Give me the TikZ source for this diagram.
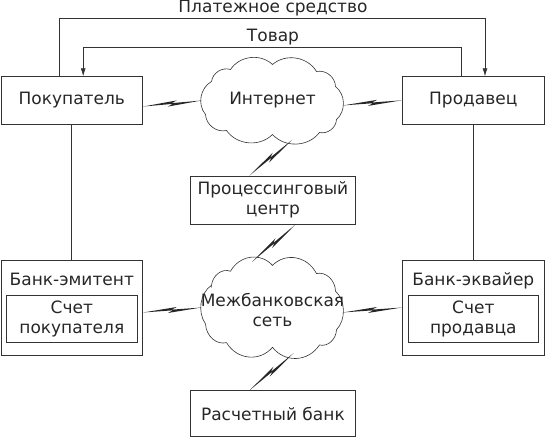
\documentclass[tikz,border=0pt]{standalone}
\usepackage{fontspec}
\setmainfont{DejaVu Sans}
\usepackage{tikz}
\usetikzlibrary{arrows.meta,shapes.geometric,calc}

% molniya between two points
\newcommand{\molnia}[2]{%
  \fill[black!85] (#1) -- ($(#1)!0.58!(#2)!2.6pt!90:(#2)$) -- ($(#1)!0.49!(#2)!0.4pt!90:(#2)$)
    -- (#2) -- ($(#1)!0.42!(#2)!-2.6pt!90:(#2)$) -- ($(#1)!0.51!(#2)!-0.4pt!90:(#2)$) -- cycle;}

% kontur oblaka round a node
\newcommand{\kontur}[2]{%
  \begin{scope}[shift={(#1.center)},yscale=#2]
    \draw[lin,line width=0.6pt] (-61,-19) to[bend left=50] (-42,-31) to[bend left=50] (0,-36)
      to[bend left=50] (44,-29) to[bend left=50] (63,-14) to[bend left=50] (64,19)
      to[bend left=50] (47,32) to[bend left=50] (0,34) to[bend left=50] (-46,30)
      to[bend left=50] (-67,14) to[bend left=50] cycle;
  \end{scope}}

\begin{document}
\begin{tikzpicture}[x=1pt,y=-1pt,
  blok/.style={rectangle,draw=black!80,line width=0.7pt,inner sep=0pt},
  oblako/.style={ellipse,inner sep=0pt},
  txt/.style={font=\fontsize{17}{20}\selectfont,text=black!85,align=center},
  lin/.style={draw=black!80,line width=0.7pt},
  flow/.style={lin,-{Latex[length=8pt,width=5pt]}}]
\useasboundingbox (0,0) rectangle (545,438);

  \node[blok,txt,minimum width=141.8pt,minimum height=47.3pt] (pk) at (71.8,100.3) {Покупатель};
  \node[blok,txt,minimum width=141.8pt,minimum height=47.3pt] (pr) at (473.3,100.3) {Продавец};
  \node[blok,txt,minimum width=165.7pt,minimum height=48pt] (pc) at (272.9,200) {Процессинговый\\центр};
  \node[blok,txt,minimum width=165.7pt,minimum height=46pt] (rb) at (272.9,413.7) {Расчетный банк};

  \node[blok,minimum width=141.8pt,minimum height=95pt] (be) at (71.8,307.5) {};
  \node[txt,anchor=base] (bet) at (71.8,285) {Банк-эмитент};
  \node[blok,txt,minimum width=130.7pt,minimum height=47.3pt] (sp) at (71.8,318.7) {Счет\\покупателя};
  \node[blok,minimum width=141.8pt,minimum height=95pt] (bq) at (473.3,307.5) {};
  \node[txt,anchor=base] (bqt) at (473.3,285) {Банк-эквайер};
  \node[blok,txt,minimum width=130pt,minimum height=47.3pt] (ss) at (473.3,318.7) {Счет\\продавца};

  \node[oblako,minimum width=141.6pt,minimum height=81pt] (inet) at (272.5,100.5) {};
  \kontur{inet}{1}
  \node[txt] (inett) at (inet) {Интернет};
  \node[oblako,minimum width=141.6pt,minimum height=95pt] (mb) at (272.5,307.5) {};
  \kontur{mb}{1.17}
  \node[txt] (mbt) at (272.5,310) {Межбанковская\\сеть};

  \coordinate (pl) at (273,18.3);
  \coordinate (tv) at (273,47.7);
  \node[txt,anchor=base] (plt) at (273,12.8) {Платежное средство};
  \node[txt,anchor=base] (tvt) at (273,41.7) {Товар};

  \draw[flow] ([xshift=-12pt]pk.north) |- (pl) -| ([xshift=11.7pt]pr.north);
  \draw[flow] ([xshift=-11.6pt]pr.north) |- (tv) -| ([xshift=11.4pt]pk.north);
  \draw[lin] (pk.south) -- (be.north);
  \draw[lin] (pr.south) -- (bq.north);

  \molnia{pk.-5}{inet.west}
  \molnia{inet.-4}{pr.west}
  \molnia{inet.-63}{pc.134}
  \molnia{pc.-47}{mb.114}
  \molnia{be.-4}{mb.west}
  \molnia{mb.-4}{bq.west}
  \molnia{mb.-65}{rb.135}
\end{tikzpicture}
\end{document}
